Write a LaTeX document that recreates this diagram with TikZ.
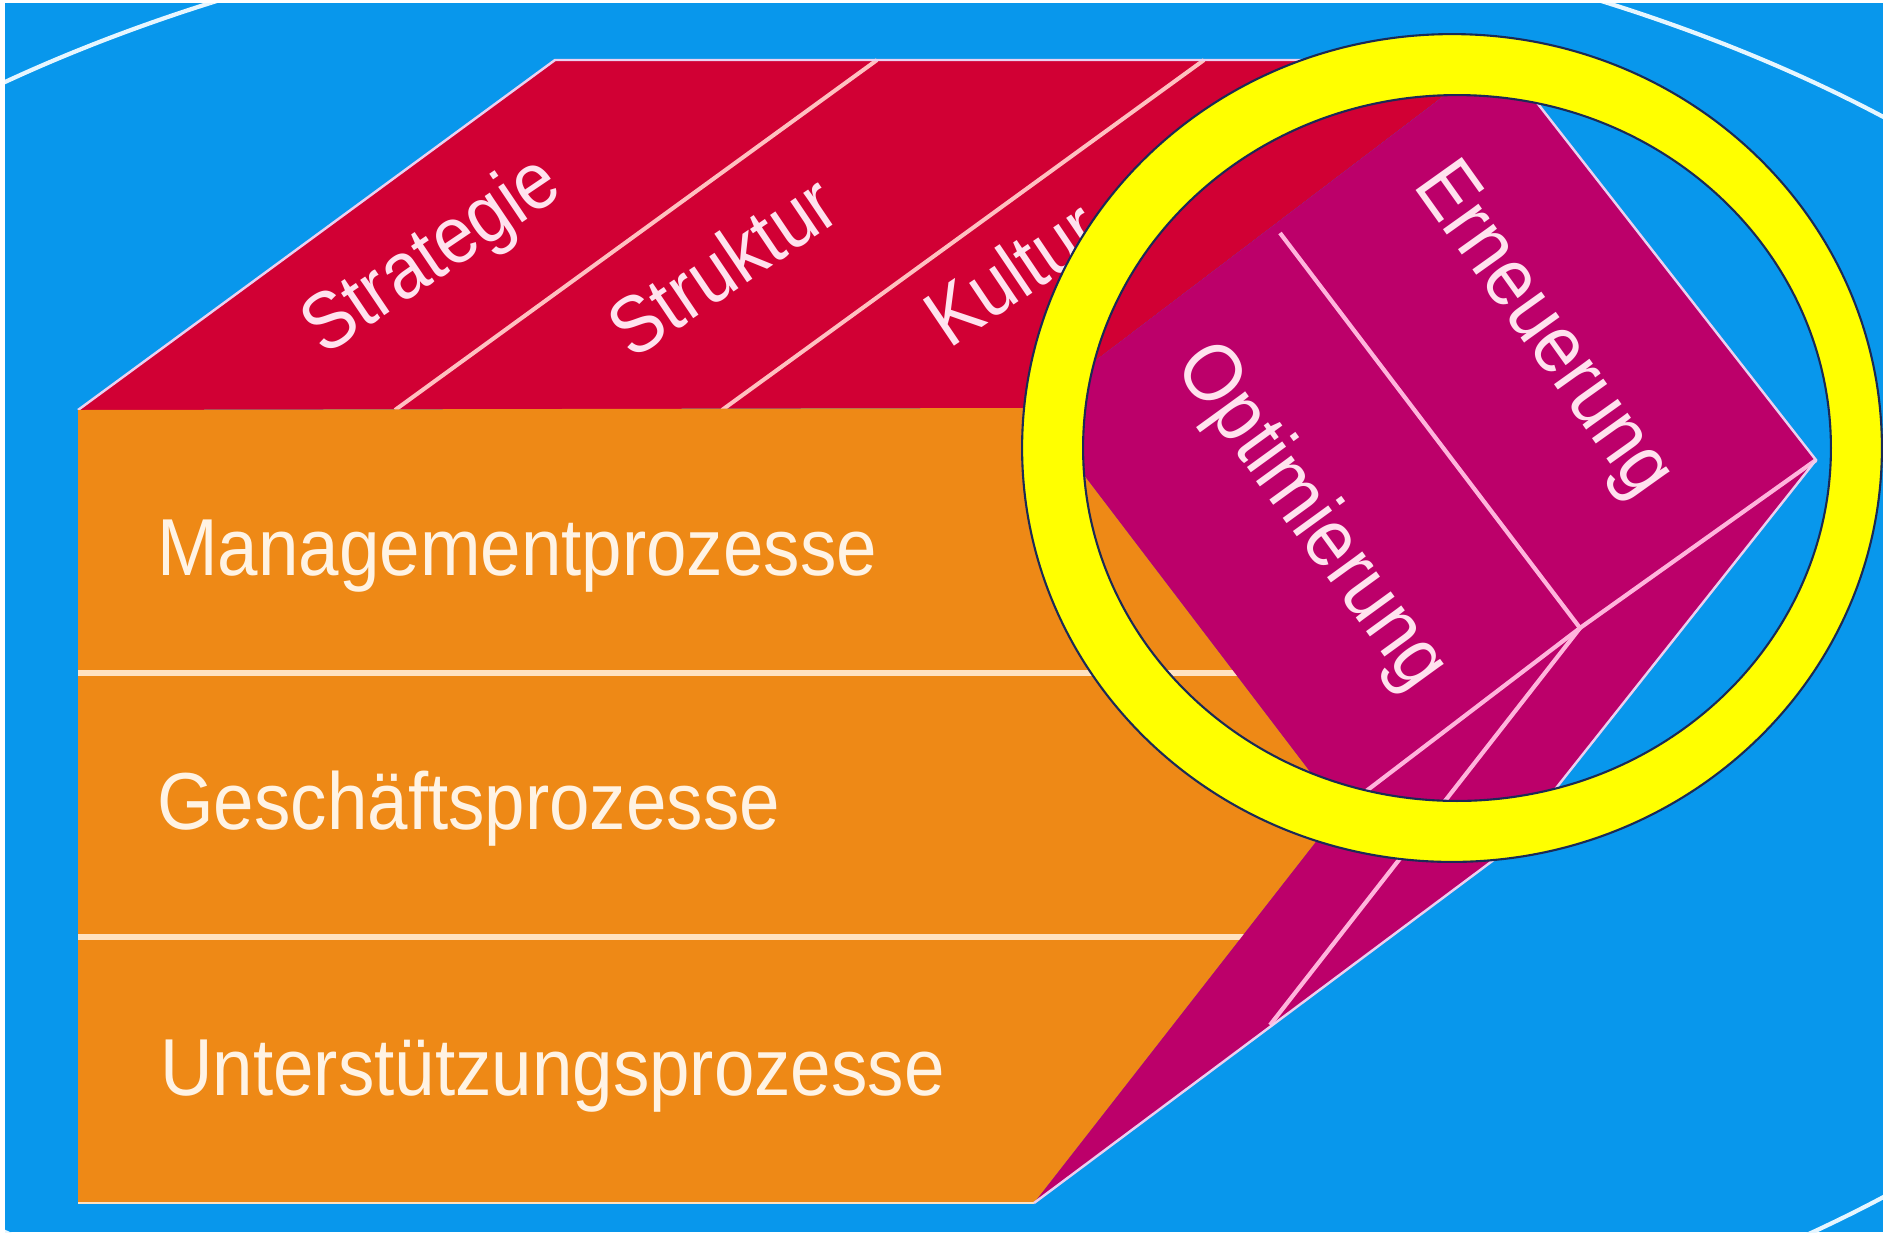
\documentclass[tikz,border=0pt]{standalone}
\usepackage{graphicx}
\usepackage{fontspec}
\setmainfont{Liberation Sans}
\definecolor{bgblue}{HTML}{0897EC}
\definecolor{faceorange}{HTML}{EE8916}
\definecolor{facered}{HTML}{D10034}
\definecolor{facemag}{HTML}{BC006A}
\definecolor{creamtxt}{HTML}{FFF3E4}
\definecolor{pinktxt}{HTML}{FFE2EE}
\definecolor{creamline}{HTML}{FFE2C0}
\definecolor{redline}{HTML}{FFC0C0}
\definecolor{magline}{HTML}{FFB4DC}
\definecolor{edgelight}{HTML}{EBD0F0}
\definecolor{ellwhite}{HTML}{E6F6FF}
\definecolor{ringyellow}{HTML}{FFFF00}
\definecolor{ringnavy}{HTML}{1B2A55}
\newcommand{\narrowtxt}[1]{\scalebox{0.9}[1]{#1}}
\tikzset{
  sepline/.style={creamline, line width=3pt},
  redsep/.style={redline, line width=2.3pt},
  magsep/.style={magline, line width=2.4pt},
  edgeline/.style={edgelight, line width=1.4pt},
  frontlbl/.style={creamtxt, anchor=base west, inner sep=0pt, font=\fontsize{46}{50}\selectfont},
  toplbl/.style={pinktxt, inner sep=0pt, font=\fontsize{46}{50}\selectfont},
  lenslbl/.style={pinktxt, inner sep=0pt, font=\fontsize{47}{50}\selectfont},
  ringline/.style={ringnavy, line width=1.2pt}
}
\begin{document}
\begin{tikzpicture}[x=0.02cm,y=-0.02cm]
\useasboundingbox (0,0) rectangle (1883,1232);
\fill[white] (0,0) rectangle (1883,1232);
\fill[bgblue] (5,3) rectangle (1883,1232);
% background ellipse line
\begin{scope}
\clip (5,3) rectangle (1883,1232);
\draw[ellwhite, line width=2.4pt] (909,657) ellipse [x radius=27.86cm, y radius=15.12cm];
\end{scope}

% key points
\coordinate (FTL) at (78,410);
\coordinate (FBL) at (78,1203);
\coordinate (TIP) at (1034,1203);
\coordinate (P2) at (1340,811);
\coordinate (CL) at (1033,408);
\coordinate (RTL) at (555,60);
\coordinate (RTR) at (1491,60);
\coordinate (T) at (1499,54);
\coordinate (R) at (1816,460);
\coordinate (Q) at (1507,850);
\coordinate (J) at (1580,628);
\coordinate (L2e) at (1270,1025);
\coordinate (DV) at (1280,233);

% top face (red)
\fill[facered] (FTL) -- (RTL) -- (RTR) -- (CL) -- cycle;
\draw[redsep] (395,410) -- (877,60);
\draw[redsep] (722,410) -- (1204,60);
\draw[edgeline] (FTL) -- (RTL) -- (RTR);

% front face (orange)
\fill[faceorange] (FTL) -- (CL) -- (P2) -- (TIP) -- (FBL) -- cycle;
\draw[sepline] (78,673) -- (1260,673);
\draw[sepline] (78,937) -- (1260,937);
\draw[creamline, line width=1.2pt] (FBL) -- (TIP);

% side face (magenta)
\fill[facemag] (CL) -- (T) -- (R) -- (Q) -- (TIP) -- (P2) -- cycle;
\draw[magsep] (DV) -- (J);
\draw[magsep] (R) -- (J) -- (P2);
\draw[magsep] (J) -- (L2e);
\draw[edgeline] (T) -- (R) -- (Q) -- (TIP);

% labels
\node[toplbl, rotate=34] (tStrat) at (433,258) {\narrowtxt{Strategie}};
\node[toplbl, rotate=34] (tStruk) at (722,265) {\narrowtxt{Struktur}};
\node[toplbl, rotate=34] (tKult) at (1012,272) {\narrowtxt{Kultur}};
\node[frontlbl] (tMgmt) at (157,575) {\narrowtxt{Managementprozesse}};
\node[frontlbl] (tGesch) at (157,829) {\narrowtxt{Geschäftsprozesse}};
\node[frontlbl] (tUnter) at (160,1095) {\narrowtxt{Unterstützungsprozesse}};
\node[lenslbl, rotate=-54] (tOpt) at (1310,518) {\narrowtxt{Optimierung}};
\node[lenslbl, rotate=-54.5] (tErn) at (1541,332) {\narrowtxt{Erneuerung}};

% highlight ring
\fill[ringyellow, even odd rule] (1452,448) ellipse [x radius=8.6cm, y radius=8.28cm]
  (1457,448) ellipse [x radius=7.48cm, y radius=7.06cm];
\draw[ringline] (1452,448) ellipse [x radius=8.6cm, y radius=8.28cm];
\draw[ringline] (1457,448) ellipse [x radius=7.48cm, y radius=7.06cm];
\end{tikzpicture}
\end{document}
